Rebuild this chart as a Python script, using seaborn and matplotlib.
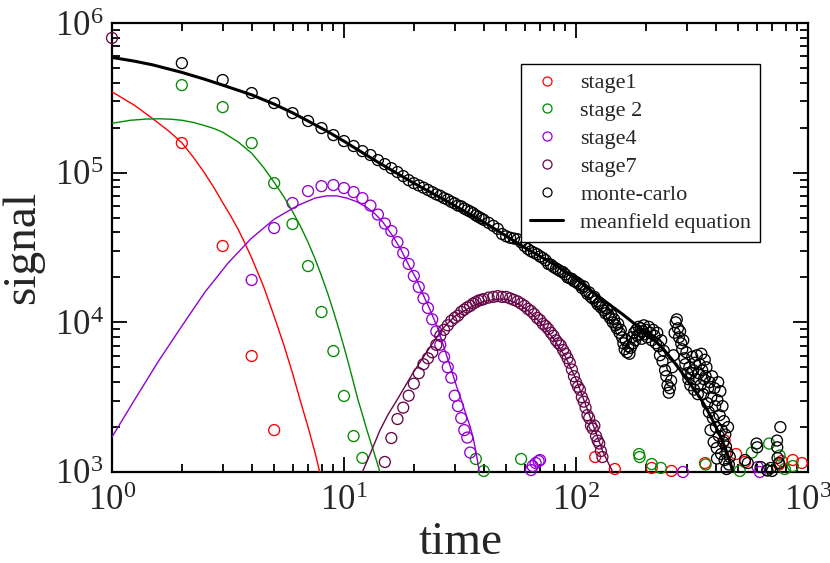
import numpy as np
import pandas as pd
import matplotlib
matplotlib.use("Agg")
import matplotlib.pyplot as plt
import seaborn as sns
from matplotlib.lines import Line2D
from matplotlib.ticker import LogLocator, LogFormatterMathtext, NullFormatter

# ---------------------------------------------------------------------------
# Data: times and log10(signal) for each stage, the Monte-Carlo run and the
# mean-field solutions.
# ---------------------------------------------------------------------------
stage1_time = [2, 3, 4, 5, 121, 147, 212, 258, 360, 437, 490, 535, 750, 770, 860, 940]
stage1_log = [5.198, 4.51, 3.775, 3.28, 3.10, 3.02, 3.027, 3.007, 3.06, 3.21,
              3.12, 3.067, 3.05, 3.073, 3.08, 3.06]

stage2_time = [2, 3, 4, 5, 6, 7, 8, 9, 10, 11, 12,
               37, 40, 58, 187, 188, 212, 232, 362, 508, 573, 668, 680, 754, 794, 861]
stage2_log = [5.585, 5.438, 5.198, 4.93, 4.657, 4.376, 4.069, 3.808, 3.508, 3.24, 3.094,
              3.087, 3.007, 3.087, 3.12, 3.10, 3.053, 3.027, 3.05, 3.007, 3.13, 3.013,
              3.19, 3.11, 3.02, 3.04]

stage4_time = [4, 5, 6, 7, 8, 9, 10, 11, 12, 13, 14, 15, 16, 17, 18, 19, 20, 21, 22,
               23, 24, 25, 26, 27, 28, 29, 30, 31, 32, 33, 34, 35,
               64, 65, 67, 69, 70, 289, 607, 620]
stage4_log = [4.283, 4.63, 4.797, 4.877, 4.91, 4.917, 4.897, 4.87, 4.83, 4.78, 4.72,
              4.66, 4.61, 4.536, 4.463, 4.39, 4.31, 4.236, 4.16, 4.096, 4.02, 3.94,
              3.85, 3.77, 3.70, 3.63, 3.51, 3.44, 3.36, 3.28, 3.23, 3.13,
              3.013, 3.04, 3.06, 3.073, 3.08, 3.0, 3.033, 3.0]

stage7_time = [1, 15, 16, 17, 18, 19, 20, 21, 22, 23, 24, 25, 26, 27, 28, 29, 30, 31,
               32, 33, 34, 35, 36, 37, 38, 39, 40,
               42, 44, 46, 48, 50, 52, 54, 56, 58, 60, 62, 64, 66, 68, 70, 72, 74,
               76, 78, 80, 82, 84, 86, 88, 90, 92, 94, 96, 98, 100, 102, 104, 106,
               108, 110, 112, 114, 116, 118, 120, 122, 124, 126, 128, 130]
stage7_log = [5.90, 3.067, 3.227, 3.354, 3.43, 3.51, 3.59, 3.66, 3.72, 3.76, 3.80,
              3.85, 3.91, 3.95, 3.98, 4.01, 4.03, 4.045, 4.07, 4.085, 4.10, 4.11,
              4.125, 4.135, 4.145, 4.15, 4.155,
              4.165, 4.17, 4.175, 4.17, 4.17, 4.16, 4.15, 4.14, 4.125, 4.11, 4.09,
              4.075, 4.055, 4.03, 4.015, 3.99, 3.975, 3.955, 3.93, 3.91, 3.88, 3.86,
              3.845, 3.815, 3.79, 3.76, 3.73, 3.685, 3.64, 3.60, 3.57, 3.55, 3.50,
              3.47, 3.43, 3.38, 3.36, 3.31, 3.29, 3.31, 3.24, 3.21, 3.19, 3.14, 3.10]

mc_time = [2, 3, 4, 5, 6, 7, 8, 9, 10, 11, 12, 13, 14, 15, 16, 17, 18, 19, 20,
           21, 22, 23, 24, 25, 26, 27, 28, 29, 30, 31, 32, 33, 34, 35, 36, 37, 38, 39, 40,
           42, 44, 46, 48, 50, 52, 54, 56, 58, 60, 62, 64, 66, 68, 70, 72, 74, 76, 78,
           80, 82, 84, 86, 88, 90, 92, 94, 96, 98,
           100, 102, 104, 106, 108, 110, 112, 114, 116, 118, 120, 122, 124, 126, 128,
           130, 132, 134, 136, 138, 140, 142, 144, 146, 148, 150, 152, 154, 156, 158,
           160, 162, 164, 166, 168, 170, 172, 174, 176, 178, 180, 182, 184, 186, 188,
           190, 192, 194, 196, 198, 200, 203, 206, 209, 212, 215, 218, 221, 224, 227,
           230, 233, 236, 239, 242, 245, 248, 251, 254, 257, 260, 263, 266, 269, 272,
           275, 278, 281, 284, 287, 290, 293, 296, 299, 302, 305, 308, 311, 314, 317,
           320, 323, 326, 329, 332, 335, 338, 341, 344, 347, 350, 353, 356, 359, 362,
           365, 368, 371, 374, 377, 380, 383, 386, 389, 392, 395, 398, 401, 404, 405,
           407, 410, 413, 416, 419, 422, 425, 428, 431, 434, 437, 440, 443, 446, 449,
           452, 456, 460,
           535, 550, 600, 604, 625, 668, 690, 700, 735, 737, 739, 750, 760]
mc_log = [5.732, 5.619, 5.532, 5.465, 5.398, 5.345, 5.298, 5.251, 5.211, 5.178, 5.144,
          5.118, 5.084, 5.057, 5.03, 5.004, 4.977, 4.95, 4.93,
          4.915, 4.90, 4.885, 4.87, 4.855, 4.845, 4.83, 4.82, 4.805, 4.795, 4.78, 4.775,
          4.76, 4.75, 4.74, 4.73, 4.715, 4.705, 4.695, 4.685,
          4.665, 4.645, 4.625, 4.59, 4.575, 4.565, 4.56, 4.555, 4.535, 4.51, 4.49, 4.475,
          4.465, 4.455, 4.44, 4.43, 4.415, 4.39, 4.385, 4.37, 4.36, 4.35, 4.34, 4.335,
          4.32, 4.30, 4.295, 4.29, 4.275,
          4.27, 4.26, 4.25, 4.23, 4.24, 4.21, 4.19, 4.20, 4.17, 4.16, 4.17, 4.14, 4.12,
          4.13, 4.10, 4.11, 4.08, 4.06, 4.09, 4.05, 4.03, 4.05, 4.00, 4.02, 3.98, 3.96,
          3.99, 3.93, 3.95, 3.90, 3.86, 3.82, 3.88, 3.80, 3.84, 3.79, 3.83, 3.90, 3.86,
          3.93, 3.88, 3.95, 3.91, 3.97, 3.92, 3.96, 3.89, 3.94, 3.98, 3.92, 3.95, 3.90,
          3.97, 3.93, 3.88, 3.95, 3.91, 3.86, 3.93, 3.84, 3.78, 3.88, 3.74, 3.81, 3.68,
          3.64, 3.58, 3.53, 3.56, 3.61, 3.70, 3.78, 3.93, 4.00, 4.02, 3.96, 3.90, 3.94,
          3.86, 3.82, 3.88, 3.76, 3.72, 3.80, 3.66, 3.62, 3.70, 3.58, 3.66, 3.77, 3.68,
          3.55, 3.73, 3.62, 3.78, 3.52, 3.66, 3.72, 3.58, 3.79, 3.68, 3.52, 3.62, 3.75,
          3.64, 3.70, 3.46, 3.56, 3.40, 3.60, 3.28, 3.50, 3.64, 3.36, 3.20, 3.56, 3.44,
          3.30, 3.16, 3.09, 3.48, 3.60, 3.24, 3.38, 3.54, 3.12, 3.28, 3.44, 3.20, 3.34,
          3.08, 3.25, 3.17, 3.02, 3.13, 3.30, 3.05, 3.10,
          3.08, 3.06, 3.19, 3.165, 3.033, 3.01, 3.027, 3.007, 3.21, 3.165, 3.094, 3.06,
          3.30]

# mean-field solutions
fit1_time = [1, 1.25, 1.5, 1.75, 2, 2.25, 2.5, 2.75, 3, 3.25, 3.5, 3.75, 4, 4.5, 5,
             5.5, 6, 6.5, 7, 7.5, 8]
fit1_log = [5.54, 5.45, 5.36, 5.28, 5.20, 5.10, 5.00, 4.90, 4.80, 4.71, 4.62, 4.525,
            4.43, 4.24, 4.04, 3.85, 3.66, 3.47, 3.30, 3.13, 2.95]

fit2_time = [1, 1.2, 1.4, 1.6, 1.8, 2, 2.25, 2.5, 2.75, 3, 3.5, 4, 4.5, 5, 5.5, 6,
             6.5, 7, 7.5, 8, 8.5, 9, 9.5, 10, 10.5, 11, 11.5, 12, 12.5, 13, 13.5, 14,
             14.5]
fit2_log = [5.33, 5.35, 5.358, 5.36, 5.357, 5.35, 5.335, 5.315, 5.295, 5.27, 5.205,
            5.13, 5.035, 4.935, 4.84, 4.74, 4.64, 4.535, 4.425, 4.31, 4.195, 4.075,
            3.955, 3.835, 3.715, 3.595, 3.48, 3.385, 3.29, 3.205, 3.125, 3.045, 2.965]

fit4_time = [1, 1.26, 1.585, 2.0, 2.51, 3.16, 3.98, 5.01, 6.31, 7.5, 8.4, 9.3, 10.3,
             11.4, 12.5, 13.6, 14.7, 16, 17.4, 19.2, 20.5, 21.7, 23.4, 25.2, 26.5,
             27.8, 29.2, 30.6, 32.2, 33.8, 35, 36, 37.2, 38.3, 38.8]
fit4_log = [3.234, 3.49, 3.74, 3.975, 4.20, 4.395, 4.56, 4.69, 4.78, 4.83, 4.845,
            4.845, 4.83, 4.805, 4.77, 4.725, 4.67, 4.59, 4.50, 4.37, 4.29, 4.20, 4.09,
            3.97, 3.87, 3.77, 3.67, 3.57, 3.47, 3.37, 3.30, 3.23, 3.12, 3.0, 2.95]

fit7_time = [11.5, 12, 13, 14.3, 15.5, 16.9, 18.3, 19.8, 21.5, 23.5, 25, 26.7, 28, 30,
             32, 35, 40, 45, 50, 57, 63, 70, 80, 90, 100, 110, 120, 131, 144, 147]
fit7_log = [2.95, 3.0, 3.125, 3.28, 3.385, 3.48, 3.57, 3.66, 3.745, 3.835, 3.896, 3.96,
            3.993, 4.04, 4.065, 4.10, 4.14, 4.155, 4.155, 4.12, 4.07, 4.00, 3.89, 3.77,
            3.62, 3.45, 3.29, 3.13, 3.0, 2.96]

mf_time = [1, 1.25, 1.5, 2, 2.5, 3, 4, 5, 6, 7, 8.5, 10, 14, 20, 30, 42, 60, 80, 100,
           131, 160, 200, 220, 240, 260, 280, 300, 320, 343, 360, 380, 400, 420, 440,
           460, 475, 490]
mf_log = [5.77, 5.745, 5.72, 5.67, 5.625, 5.585, 5.52, 5.458, 5.40, 5.345, 5.275, 5.21,
          5.07, 4.93, 4.78, 4.65, 4.50, 4.39, 4.29, 4.15, 4.05, 3.93, 3.875, 3.815,
          3.75, 3.685, 3.62, 3.56, 3.495, 3.44, 3.375, 3.305, 3.235, 3.16, 3.075, 3.00,
          2.92]

labels = ["stage1", "stage 2", "stage4", "stage7", "monte-carlo", "meanfield equation"]
colors = ["#ff0000", "#008b00", "#9400d3", "#670748", "#000000"]


def frame(time, logs):
    return pd.DataFrame({"time": np.asarray(time, float),
                         "signal": 10.0 ** np.asarray(logs, float)})


# ---------------------------------------------------------------------------
# Figure
# ---------------------------------------------------------------------------
sns.set_theme(style="ticks")
plt.rcParams["font.family"] = ["Liberation Serif", "DejaVu Serif"]
plt.rcParams["mathtext.fontset"] = "custom"
plt.rcParams["mathtext.rm"] = "Liberation Serif"
plt.rcParams["mathtext.it"] = "Liberation Serif:italic"
plt.rcParams["mathtext.bf"] = "Liberation Serif:bold"

fig = plt.figure(figsize=(8.30, 5.63), dpi=100)
ax = fig.add_axes([112 / 830, 1 - 472 / 563, 696 / 830, 449 / 563])
ax.set_xscale("log")
ax.set_yscale("log")

point_sets = [(stage1_time, stage1_log), (stage2_time, stage2_log),
              (stage4_time, stage4_log), (stage7_time, stage7_log),
              (mc_time, mc_log)]
for (t, lg), col in zip(point_sets, colors):
    sns.scatterplot(data=frame(t, lg), x="time", y="signal", ax=ax, marker="o",
                    s=62, facecolor="none", edgecolor=col, linewidth=0.95,
                    clip_on=False, legend=False, zorder=3)

line_sets = [(fit1_time, fit1_log, colors[0], 1.0), (fit2_time, fit2_log, colors[1], 1.0),
             (fit4_time, fit4_log, colors[2], 1.0), (fit7_time, fit7_log, colors[3], 1.0),
             (mf_time, mf_log, "black", 2.2)]
for t, lg, col, lw in line_sets:
    sns.lineplot(data=frame(t, lg), x="time", y="signal", ax=ax, color=col,
                 linewidth=lw, sort=False, estimator=None, legend=False, zorder=4)

ax.set_xlim(1, 1000)
ax.set_ylim(1e3, 1e6)

for axis in (ax.xaxis, ax.yaxis):
    axis.set_major_locator(LogLocator(base=10, numticks=10))
    axis.set_minor_locator(LogLocator(base=10, subs=np.arange(2, 10), numticks=20))
    axis.set_major_formatter(LogFormatterMathtext())
    axis.set_minor_formatter(NullFormatter())

ax.tick_params(which="both", direction="in", top=True, right=True,
               color="black", width=1.3)
ax.tick_params(which="major", length=11, labelsize=25, pad=6)
ax.tick_params(axis="x", which="major", pad=9)
ax.tick_params(which="minor", length=6)
for sp in ax.spines.values():
    sp.set_linewidth(1.6)
    sp.set_color("black")

ax.set_xlabel("time", fontsize=34, labelpad=3)
ax.set_ylabel("signal", fontsize=34, labelpad=8)

handles = [Line2D([], [], ls="none", marker="o", ms=6.5, mfc="none", mec=c, mew=0.9)
           for c in colors]
handles.append(Line2D([], [], color="black", lw=2.2))
leg = ax.legend(handles, labels, loc="upper left", bbox_to_anchor=(0.588, 0.909),
                borderaxespad=0, frameon=True, fancybox=False, shadow=False,
                edgecolor="black", framealpha=1, fontsize=16, handlelength=1.5,
                handletextpad=0.75, labelspacing=0.33, borderpad=0.4)
leg.get_frame().set_linewidth(1.0)
leg.set_zorder(5)

fig.savefig("out.png", dpi=100)
